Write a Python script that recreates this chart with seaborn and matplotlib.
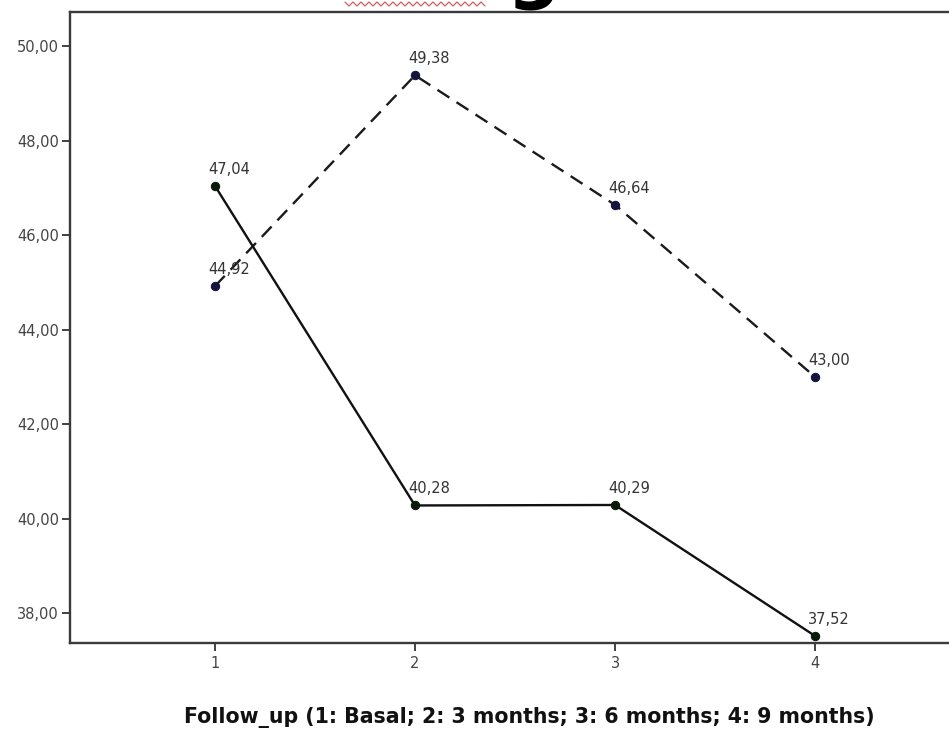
import numpy as np
import pandas as pd
import matplotlib
matplotlib.use("Agg")
import matplotlib.pyplot as plt
from matplotlib.lines import Line2D
import seaborn as sns

# Follow-up visits and group means
follow_up = [1, 2, 3, 4]
group_dashed = [44.92, 49.38, 46.64, 43.00]
group_solid = [47.04, 40.28, 40.29, 37.52]
y_ticks = [38, 40, 42, 44, 46, 48, 50]
x_label = "Follow_up (1: Basal; 2: 3 months; 3: 6 months; 4: 9 months)"

df = pd.DataFrame({
    "Follow_up": follow_up * 2,
    "Mean": group_dashed + group_solid,
    "Group": ["A"] * 4 + ["B"] * 4,
})

sns.set_theme(style="white")
plt.rcParams["font.family"] = ["DejaVu Sans"]

fig = plt.figure(figsize=(9.49, 7.35), dpi=100)
ax = fig.add_axes([70 / 949, 92 / 735, 886 / 949, 631 / 735])

sns.lineplot(
    data=df, x="Follow_up", y="Mean", hue="Group", style="Group",
    palette={"A": "#1a1a1a", "B": "#111111"},
    dashes={"A": (6, 3.6), "B": ""},
    markers={"A": "o", "B": "o"},
    markersize=6, linewidth=1.7, legend=False, ax=ax,
)

# marker tints: dark navy for the dashed group, near-black green for the solid one
ax.lines[0].set_markerfacecolor("#14143c")
ax.lines[0].set_markeredgecolor("#14143c")
ax.lines[1].set_markerfacecolor("#0a1a0a")
ax.lines[1].set_markeredgecolor("#0a1a0a")


def fmt(v):
    return f"{v:.2f}".replace(".", ",")


for xs, ys in ((follow_up, group_dashed), (follow_up, group_solid)):
    for x, y in zip(xs, ys):
        ax.annotate(fmt(y), (x, y), xytext=(-5, 6.5), textcoords="offset points",
                    fontsize=10.5, color="#333333", ha="left", va="bottom")

ax.set_xlim(0.275, 4.705)
ax.set_ylim(37.37, 50.72)
ax.set_xticks(follow_up)
ax.set_xticklabels([str(v) for v in follow_up])
ax.set_yticks(y_ticks)
ax.set_yticklabels([fmt(v) for v in y_ticks])
ax.tick_params(axis="both", direction="out", length=6, width=1.3, color="#333333",
               labelsize=10.5, labelcolor="#444444", pad=2)
ax.tick_params(axis="x", bottom=True, pad=3)
ax.tick_params(axis="y", left=True)

for side in ("left", "top", "bottom", "right"):
    ax.spines[side].set_color("#3a3a3a")
    ax.spines[side].set_linewidth(1.7)

ax.set_ylabel("")
ax.set_xlabel(x_label, fontsize=14.8, fontweight="bold", color="#111111",
              ha="center", va="center")
ax.xaxis.set_label_coords((529 - 70) / 886, -74 / 631)

# clipped slide heading above the chart
fig.text(533 / 949, 1.0095, "g", fontsize=54, fontweight="bold", color="black",
         ha="center", va="baseline")
zx = np.linspace(345, 485, 36)
zy = np.where(np.arange(36) % 2 == 0, 2.0, 6.0)
fig.add_artist(Line2D(zx / 949, 1 - zy / 735, color="#d06060", linewidth=0.9,
                      transform=fig.transFigure))

fig.savefig("out.png", dpi=100, facecolor="white")
